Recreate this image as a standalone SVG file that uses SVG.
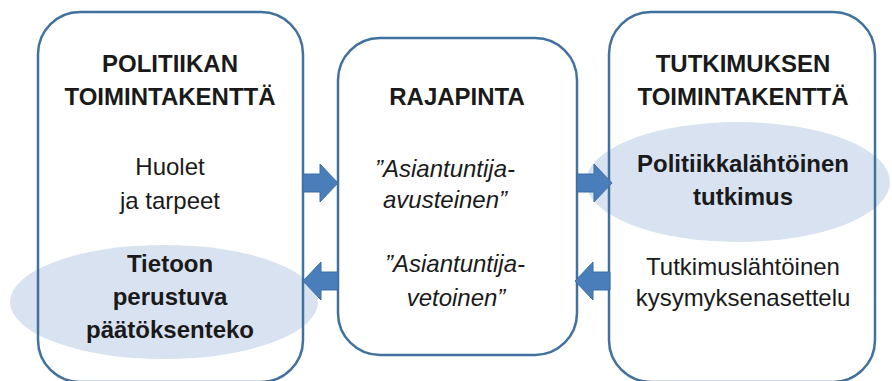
<svg xmlns="http://www.w3.org/2000/svg" width="892" height="381" viewBox="0 0 892 381">
<style>
.box{fill:none;stroke:#41719c;stroke-width:2.5}
.bg{fill:#fff}
.hl{fill:#d9e2f1}
text{font-family:"Liberation Sans",Arial,sans-serif;font-size:24px;fill:#1a1a1a;text-anchor:middle}
.b{font-weight:bold}
.i{font-style:italic}
.arr{fill:#4a7ebb;stroke:#3d6fa6;stroke-width:1}
</style>
<defs>
<path id="arrow" d="M0,-9 H17 V-19 L35,0 L17,19 V9 H0 Z"/>
</defs>
<rect width="892" height="381" fill="#fff"/>
<g id="politiikka">
<rect class="bg" x="38" y="12" width="265" height="370" rx="42"/>
<ellipse class="hl" cx="164" cy="302" rx="154" ry="57"/>
<rect class="box" x="38" y="12" width="265" height="370" rx="42"/>
<text class="b" x="170" y="72">POLITIIKAN</text>
<text class="b" x="170" y="105">TOIMINTAKENTTÄ</text>
<text x="170" y="175">Huolet</text>
<text x="170" y="209">ja tarpeet</text>
<text class="b" x="170" y="272">Tietoon</text>
<text class="b" x="170" y="305">perustuva</text>
<text class="b" x="170" y="338">päätöksenteko</text>
</g>
<g id="rajapinta">
<rect class="bg" x="338" y="38" width="239" height="317" rx="42"/>
<rect class="box" x="338" y="38" width="239" height="317" rx="42"/>
<text class="b" x="457" y="105">RAJAPINTA</text>
<text class="i" x="445" y="177">”Asiantuntija-</text>
<text class="i" x="445" y="208">avusteinen”</text>
<text class="i" x="455" y="272">”Asiantuntija-</text>
<text class="i" x="456" y="306">vetoinen”</text>
</g>
<g id="tutkimus">
<rect class="bg" x="609" y="12" width="266" height="370" rx="42"/>
<ellipse class="hl" cx="738" cy="182" rx="152" ry="60"/>
<rect class="box" x="609" y="12" width="266" height="370" rx="42"/>
<text class="b" x="743" y="72">TUTKIMUKSEN</text>
<text class="b" x="743" y="105">TOIMINTAKENTTÄ</text>
<text class="b" x="743" y="172">Politiikkalähtöinen</text>
<text class="b" x="743" y="205">tutkimus</text>
<text x="743" y="275">Tutkimuslähtöinen</text>
<text x="743" y="306">kysymyksenasettelu</text>
</g>
<g id="connectors">
<use href="#arrow" class="arr" transform="translate(303,183)"/>
<use href="#arrow" class="arr" transform="translate(577,183)"/>
<use href="#arrow" class="arr" transform="translate(610,281) scale(-1,1)"/>
<use href="#arrow" class="arr" transform="translate(338,281) scale(-1,1)"/>
</g>
</svg>
